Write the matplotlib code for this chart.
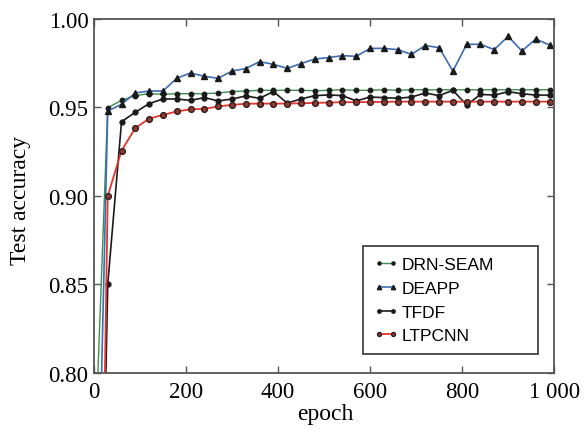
import numpy as np
import matplotlib.pyplot as plt
from matplotlib.ticker import FixedLocator

epochs = [0] + list(range(30, 1000, 30))

drn_seam = [0.739, 0.9499, 0.9540, 0.9567, 0.9578, 0.9574, 0.9578, 0.9578, 0.9578, 0.9582,
            0.9590, 0.9593, 0.9597, 0.9597, 0.9597, 0.9597, 0.9595, 0.9597, 0.9600, 0.9597,
            0.9597, 0.9600, 0.9597, 0.9600, 0.9600, 0.9600, 0.9600, 0.9600, 0.9600, 0.9600,
            0.9600, 0.9600, 0.9600, 0.9600]
deapp = [0.614, 0.9480, 0.9518, 0.9582, 0.9593, 0.9593, 0.9665, 0.9695, 0.9676, 0.9665,
         0.9706, 0.9720, 0.9759, 0.9744, 0.9721, 0.9748, 0.9774, 0.9782, 0.9793, 0.9789,
         0.9834, 0.9834, 0.9827, 0.9800, 0.9850, 0.9838, 0.9706, 0.9857, 0.9857, 0.9827,
         0.9902, 0.9819, 0.9887, 0.9853]
tfdf = [0.475, 0.8500, 0.9420, 0.9473, 0.9522, 0.9548, 0.9548, 0.9540, 0.9556, 0.9537,
        0.9548, 0.9565, 0.9552, 0.9590, 0.9525, 0.9548, 0.9567, 0.9571, 0.9567, 0.9537,
        0.9559, 0.9556, 0.9552, 0.9559, 0.9582, 0.9567, 0.9597, 0.9514, 0.9574, 0.9570,
        0.9589, 0.9578, 0.9570, 0.9570]
ltpcnn = [0.41, 0.9000, 0.9256, 0.9384, 0.9437, 0.9458, 0.9478, 0.9490, 0.9492, 0.9506,
          0.9515, 0.9521, 0.9522, 0.9522, 0.9522, 0.9524, 0.9526, 0.9528, 0.9530, 0.9530,
          0.9531, 0.9532, 0.9533, 0.9533, 0.9533, 0.9533, 0.9533, 0.9533, 0.9533, 0.9533,
          0.9533, 0.9533, 0.9533, 0.9533]

names = ["DRN-SEAM", "DEAPP", "TFDF", "LTPCNN"]
xticks = [0, 200, 400, 600, 800, 1000]
xticklabels = ["0", "200", "400", "600", "800", "1 000"]
yticks = [0.80, 0.85, 0.90, 0.95, 1.00]

fig = plt.figure(figsize=(5.87, 4.31), dpi=100)
ax = fig.add_axes([0.160, 0.1323, 0.784, 0.8213])

ax.plot(epochs, drn_seam, color="#3a8f4a", lw=1.0, marker="o", ms=3.2,
        mfc="#1a1a1a", mec="#1a1a1a", label=names[0])
ax.plot(epochs, deapp, color="#3d6db5", lw=1.2, marker="^", ms=4.5,
        mfc="#1a1a1a", mec="#1a1a1a", label=names[1])
ax.plot(epochs, tfdf, color="#1a1a1a", lw=1.2, marker="o", ms=3.5,
        mfc="#1a1a1a", mec="#1a1a1a", label=names[2])
ax.plot(epochs, ltpcnn, color="#e8342a", lw=1.3, marker="o", ms=4.2,
        mfc="#8a3a30", mec="#2a1a1a", mew=0.9, label=names[3])

ax.set_xlim(0, 1000)
ax.set_ylim(0.80, 1.00)
ax.xaxis.set_major_locator(FixedLocator(xticks))
ax.set_xticklabels(xticklabels)
ax.set_yticks(yticks)
ax.set_yticklabels(["%.2f" % v for v in yticks])

serif = "Liberation Serif"
for lab in ax.get_xticklabels() + ax.get_yticklabels():
    lab.set_family(serif)
    lab.set_fontsize(16.5)
ax.tick_params(direction="in", top=True, right=True, length=5, width=1,
               color="#555555")
ax.tick_params(axis="x", pad=6)
ax.tick_params(axis="y", pad=4)
for sp in ax.spines.values():
    sp.set_color("#555555")
    sp.set_linewidth(1.3)

ax.set_xlabel("epoch", family=serif, fontsize=17)
ax.set_ylabel("Test accuracy", family=serif, fontsize=17)
ax.xaxis.set_label_coords(0.502, -0.086)
ax.yaxis.set_label_coords(-0.136, 0.49)

leg = ax.legend(loc="lower left", bbox_to_anchor=(0.585, 0.054, 0.380, 0.30),
                mode="expand", numpoints=2, markerscale=0.7,
                prop={"family": "Liberation Sans", "size": 12.5},
                handlelength=1.4, handletextpad=0.2, borderpad=0.6,
                labelspacing=0.5, fancybox=False, framealpha=1,
                borderaxespad=0)
leg.get_frame().set_edgecolor("#333333")
leg.get_frame().set_linewidth(1.2)

plt.savefig("out.png", dpi=100)
